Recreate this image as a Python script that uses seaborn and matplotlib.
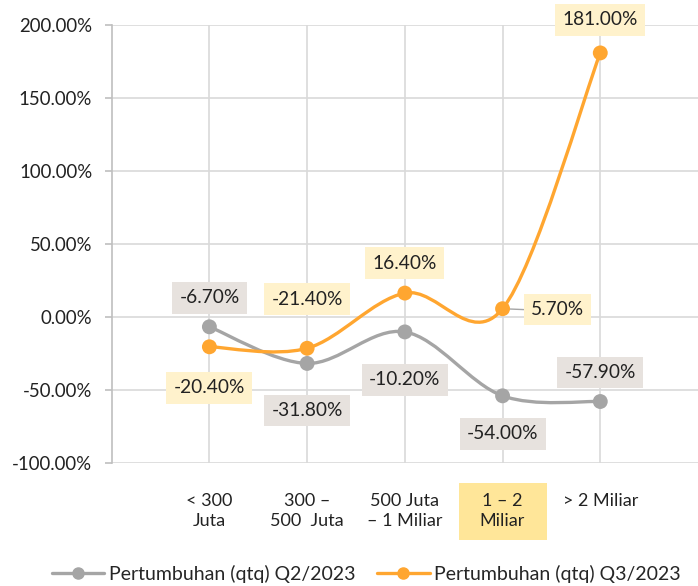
# ==========================================
# Pertumbuhan (qtq) per kelompok plafon
# ==========================================
import numpy as np
import pandas as pd
import matplotlib
matplotlib.use("Agg")
import matplotlib.pyplot as plt
import seaborn as sns
from matplotlib.path import Path
from matplotlib.patches import PathPatch, Rectangle
from matplotlib.lines import Line2D
from matplotlib.transforms import blended_transform_factory

# ==========================================
# Data
# ==========================================
categories = ["< 300\nJuta", "300 \u2013\n500  Juta", "500 Juta\n\u2013 1 Miliar",
              "1 \u2013 2\nMiliar", "> 2 Miliar"]
q2_values = [-6.70, -31.80, -10.20, -54.00, -57.90]
q3_values = [-20.40, -21.40, 16.40, 5.70, 181.00]
series_names = ["Pertumbuhan (qtq) Q2/2023", "Pertumbuhan (qtq) Q3/2023"]
y_ticks = [-100, -50, 0, 50, 100, 150, 200]

GREY = "#A5A5A5"
ORANGE = "#FFA630"
GREY_BOX = "#E7E2DE"
ORANGE_BOX = "#FFF2CC"
HIGHLIGHT = "#FFE699"
AXIS_GREY = "#BFBFBF"
GRID_GREY = "#D9D9D9"

df = pd.DataFrame({
    "pos": list(range(len(categories))) * 2,
    "value": q2_values + q3_values,
    "series": [series_names[0]] * 5 + [series_names[1]] * 5,
})

sns.set_theme(style="white")
plt.rcParams["font.family"] = ["Lato", "DejaVu Sans"]

fig = plt.figure(figsize=(6.98, 5.86), dpi=100)
ax = fig.add_axes([0.16, 0.21, 0.84, 0.747])


# smooth line like Excel (bezier through the points)
def smooth_path(xs, ys):
    pts = np.column_stack([xs, ys]).astype(float)
    n = len(pts)
    verts = [pts[0]]
    codes = [Path.MOVETO]
    for i in range(n - 1):
        p_prev = pts[i - 1] if i > 0 else pts[i]
        p_next2 = pts[i + 2] if i + 2 < n else pts[i + 1]
        c1 = pts[i] + (pts[i + 1] - p_prev) / 6
        c2 = pts[i + 1] - (p_next2 - pts[i]) / 6
        verts += [c1, c2, pts[i + 1]]
        codes += [Path.CURVE4] * 3
    return Path(verts, codes)


for name, color in zip(series_names, [GREY, ORANGE]):
    sub = df[df["series"] == name]
    ax.add_patch(PathPatch(smooth_path(sub["pos"], sub["value"]),
                           facecolor="none", edgecolor=color, lw=2.4,
                           capstyle="round", zorder=3))

sns.scatterplot(data=df, x="pos", y="value", hue="series",
                palette=[GREY, ORANGE], s=115, edgecolor="none",
                legend=False, zorder=4, ax=ax)

# ==========================================
# Data labels (offset in pixels)
# ==========================================
q2_offsets = [(0, 29), (0, -47), (0, -48), (0, -38), (0, 29)]
q3_offsets = [(0, -41), (0, 49), (0, 30), (55, -1), (0, 33)]

for vals, offs, box in [(q2_values, q2_offsets, GREY_BOX),
                        (q3_values, q3_offsets, ORANGE_BOX)]:
    for i, (v, off) in enumerate(zip(vals, offs)):
        ax.annotate(f"{v:.2f}%", (i, v), xytext=off, textcoords="offset pixels",
                    ha="center", va="center", fontsize=13.8, color="#222222",
                    bbox=dict(boxstyle="square,pad=0.38", fc=box, ec="none"),
                    zorder=5)

# leader line for 5.70%
ax.annotate("", (3, q3_values[3]), xytext=(24, -1), textcoords="offset pixels",
            arrowprops=dict(arrowstyle="-", color=GREY, lw=1), zorder=2)

# ==========================================
# Axes styling
# ==========================================
ax.set_xlim(-1, 5)
ax.set_ylim(-100, 200)
ax.set_xticks(range(len(categories)))
ax.set_xticklabels(categories, fontsize=13, color="#222222", linespacing=1.3)
ax.set_yticks(y_ticks)
ax.set_yticklabels([f"{v:.2f}%" for v in y_ticks], fontsize=13.4, color="#222222")
ax.grid(True, color=GRID_GREY, lw=1.2)
ax.set_axisbelow(True)
ax.tick_params(axis="x", length=0, pad=22)
ax.tick_params(axis="y", length=5, width=1.2, color=AXIS_GREY, pad=9, left=True)
for side in ["top", "right", "bottom"]:
    ax.spines[side].set_visible(False)
ax.spines["left"].set_color(AXIS_GREY)
ax.spines["left"].set_linewidth(1.2)
ax.set_xlabel("")
ax.set_ylabel("")

# highlighted category "1 - 2 Miliar"
trans = blended_transform_factory(ax.transData, ax.transAxes)
ax.add_patch(Rectangle((3 - 0.45, -0.176), 0.9, 0.13, transform=trans,
                       facecolor=HIGHLIGHT, edgecolor="none", clip_on=False, zorder=0))

handles = [Line2D([], [], color=c, lw=2.4, marker="o", markersize=8)
           for c in [GREY, ORANGE]]
fig.legend(handles, series_names, loc="lower center", bbox_to_anchor=(0.525, -0.025),
           ncol=2, frameon=False, fontsize=14, handlelength=2.7,
           handletextpad=0.25, columnspacing=1.1)

fig.savefig("out.png", dpi=100)
